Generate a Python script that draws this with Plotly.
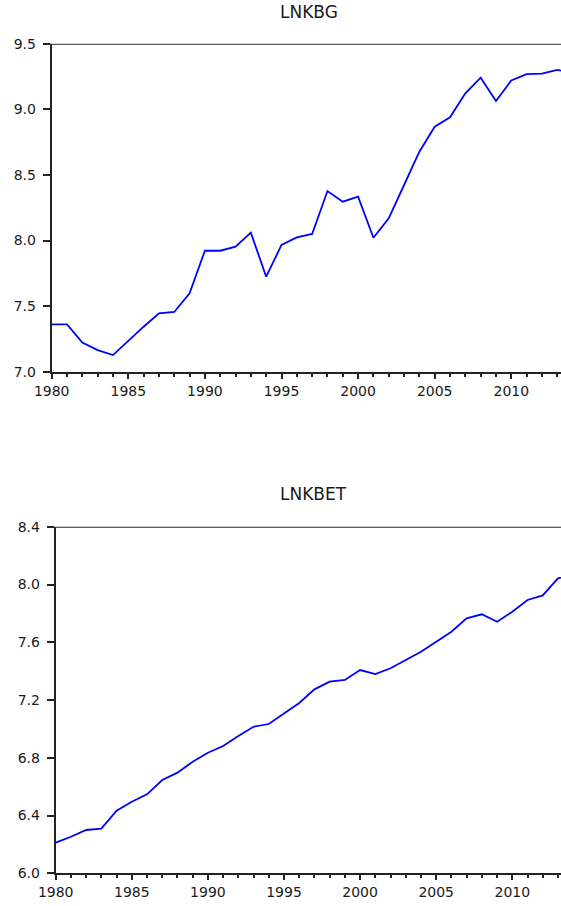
import plotly.graph_objects as go

# ---- data ----
years = list(range(1980, 2015))
lnkbg = [7.360, 7.360, 7.222, 7.165, 7.127, 7.236, 7.343, 7.445, 7.455, 7.598,
         7.922, 7.922, 7.953, 8.060, 7.724, 7.966, 8.024, 8.050, 8.377, 8.296,
         8.334, 8.021, 8.169, 8.423, 8.677, 8.867, 8.939, 9.122, 9.241, 9.063,
         9.220, 9.268, 9.272, 9.300, 9.280]
lnkbet = [6.212, 6.253, 6.300, 6.310, 6.434, 6.496, 6.547, 6.646, 6.697, 6.773,
          6.835, 6.882, 6.951, 7.015, 7.034, 7.108, 7.180, 7.274, 7.327, 7.339,
          7.408, 7.380, 7.420, 7.477, 7.535, 7.604, 7.673, 7.766, 7.794, 7.742,
          7.812, 7.893, 7.925, 8.043, 8.070]
titles = ["LNKBG", "LNKBET"]
top_yticks = [7.0, 7.5, 8.0, 8.5, 9.0, 9.5]
bot_yticks = [6.0, 6.4, 6.8, 7.2, 7.6, 8.0, 8.4]
xticks = [1980, 1985, 1990, 1995, 2000, 2005, 2010]

W, H = 561, 906
TXT = "#1a1a1a"
AX = "#222222"
FONT = "DejaVu Sans"

fig = go.Figure()
fig.add_trace(go.Scatter(x=years, y=lnkbg, mode="lines", xaxis="x", yaxis="y",
                         line=dict(color="#0000ff", width=1.8), showlegend=False))
fig.add_trace(go.Scatter(x=years, y=lnkbet, mode="lines", xaxis="x2", yaxis="y2",
                         line=dict(color="#0000ff", width=1.8), showlegend=False))

def px_x(p):
    return p / W

def px_y(p):
    return 1 - p / H

# geometry in pixels
top_left, top_px_per_yr = 51.7, 15.32
bot_left, bot_px_per_yr = 55.7, 15.22
top_xend = 1980 + (W - top_left) / top_px_per_yr
bot_xend = 1980 + (W - bot_left) / bot_px_per_yr

common_x = dict(showline=True, linecolor=AX, linewidth=2, ticks="outside",
                ticklen=5, tickwidth=2, tickcolor=AX, tickvals=xticks,
                showgrid=False, zeroline=False, automargin=False,
                tickfont=dict(family=FONT, size=14, color=TXT),
                minor=dict(ticks="outside", ticklen=3, tickwidth=2,
                           tickcolor=AX, dtick=1, tick0=1980, showgrid=False),
                ticklabelstandoff=0)
common_y = dict(showline=True, linecolor=AX, linewidth=2, ticks="outside",
                ticklen=7, tickwidth=2, tickcolor=AX, showgrid=False,
                zeroline=False, tickformat=".1f", automargin=False,
                tickfont=dict(family=FONT, size=14, color=TXT),
                ticklabelstandoff=4)

fig.update_layout(
    template="none",
    width=W, height=H,
    margin=dict(l=0, r=0, t=0, b=0),
    paper_bgcolor="white", plot_bgcolor="white",
    xaxis=dict(domain=[px_x(top_left), 1], range=[1980, top_xend],
               anchor="y", **common_x),
    yaxis=dict(domain=[px_y(371.7), px_y(43.7)], range=[7.0, 9.5],
               tickvals=top_yticks, anchor="x", **common_y),
    xaxis2=dict(domain=[px_x(bot_left), 1], range=[1980, bot_xend],
                anchor="y2", **common_x),
    yaxis2=dict(domain=[px_y(873.3), px_y(526.8)], range=[6.0, 8.4],
                tickvals=bot_yticks, anchor="x2", **common_y),
    shapes=[
        dict(type="line", xref="paper", yref="y", x0=px_x(top_left - 7), x1=1,
             y0=9.5, y1=9.5, line=dict(color="#2a2a2a", width=2)),
        dict(type="line", xref="paper", yref="y2", x0=px_x(bot_left - 7), x1=1,
             y0=8.4, y1=8.4, line=dict(color="#2a2a2a", width=2)),
    ],
    annotations=[
        dict(text=titles[0], x=309 / W, y=px_y(12), xref="paper", yref="paper",
             showarrow=False, xanchor="center", yanchor="middle",
             font=dict(family=FONT, size=17, color=TXT)),
        dict(text=titles[1], x=313 / W, y=px_y(494), xref="paper", yref="paper",
             showarrow=False, xanchor="center", yanchor="middle",
             font=dict(family=FONT, size=17, color=TXT)),
    ],
)

fig.write_html("out.html", config={"displayModeBar": False},
               post_script="document.body.style.margin='0';")
